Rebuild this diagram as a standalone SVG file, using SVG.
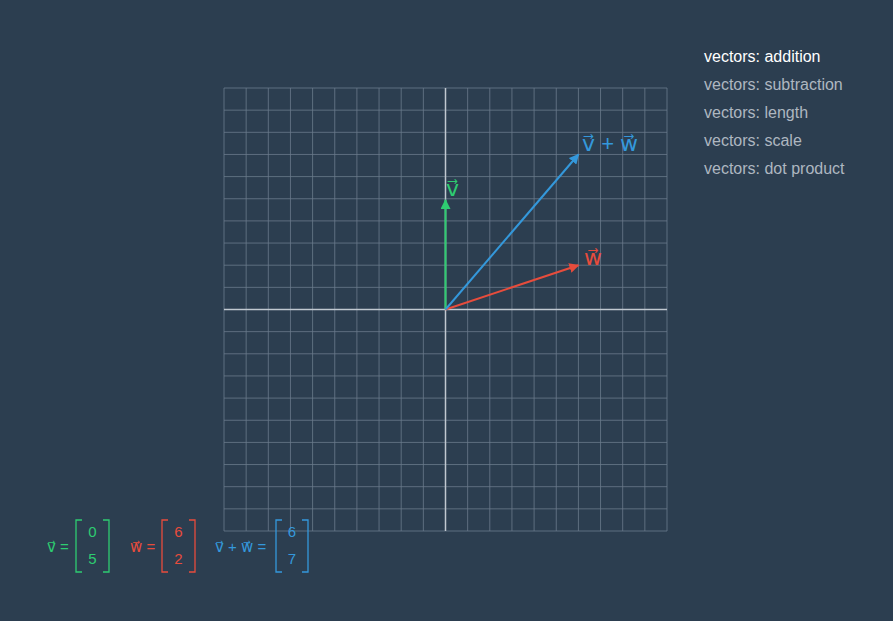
<svg xmlns="http://www.w3.org/2000/svg" width="893" height="621" viewBox="0 0 893 621">
<defs>
<style>
text{font-family:"Liberation Sans","DejaVu Sans",Arial,sans-serif}
.g{stroke:#6b7b8c;stroke-width:1;opacity:0.8}
.ax{stroke:#c0c8d0;stroke-width:1.5}
.lbl{font-size:22px}
.m{font-size:15px}
.num{font-size:15px;text-anchor:middle}
.menu{font-size:16px;fill:#aeb7c0}
.br{fill:none;stroke-width:1.3}
</style>
<marker id="ag" viewBox="0 0 10 10" refX="9" refY="5" markerWidth="5" markerHeight="5" orient="auto"><path d="M0,0L10,5L0,10z" fill="#2ecc71"/></marker>
<marker id="ar" viewBox="0 0 10 10" refX="9" refY="5" markerWidth="5" markerHeight="5" orient="auto"><path d="M0,0L10,5L0,10z" fill="#e74c3c"/></marker>
<marker id="ab" viewBox="0 0 10 10" refX="9" refY="5" markerWidth="5" markerHeight="5" orient="auto"><path d="M0,0L10,5L0,10z" fill="#3498db"/></marker>
</defs>
<rect width="893" height="621" fill="#2c3e50"/>
<g id="grid">
<path class="g" d="M224,88V531M246.15,88V531M268.3,88V531M290.45,88V531M312.6,88V531M334.75,88V531M356.9,88V531M379.05,88V531M401.2,88V531M423.35,88V531M467.65,88V531M489.8,88V531M511.95,88V531M534.1,88V531M556.25,88V531M578.4,88V531M600.55,88V531M622.7,88V531M644.85,88V531M667,88V531"/>
<path class="g" d="M224,88H667M224,110.15H667M224,132.3H667M224,154.45H667M224,176.6H667M224,198.75H667M224,220.9H667M224,243.05H667M224,265.2H667M224,287.35H667M224,331.65H667M224,353.8H667M224,375.95H667M224,398.1H667M224,420.25H667M224,442.4H667M224,464.55H667M224,486.7H667M224,508.85H667M224,531H667"/>
<path class="ax" d="M445.5,88V531M224,309.5H667"/>
</g>
<g id="connectors">
<line id="vec-v" x1="445.5" y1="309.5" x2="445.5" y2="200" stroke="#2ecc71" stroke-width="2" marker-end="url(#ag)"/>
<line id="vec-w" x1="445.5" y1="309.5" x2="578.4" y2="265.2" stroke="#e74c3c" stroke-width="2" marker-end="url(#ar)"/>
<line id="vec-vw" x1="445.5" y1="309.5" x2="578.4" y2="154.5" stroke="#3498db" stroke-width="2" marker-end="url(#ab)"/>
</g>
<g id="label-v"><text class="lbl" x="446" y="196" fill="#2ecc71">v⃗</text></g>
<g id="label-w"><text class="lbl" x="584" y="265" fill="#e74c3c">w⃗</text></g>
<g id="label-vw"><text class="lbl" x="582" y="151" fill="#3498db">v⃗ + w⃗</text></g>
<g id="menu">
<text class="menu" x="704" y="62" style="fill:#ffffff">vectors: addition</text>
<text class="menu" x="704" y="90">vectors: subtraction</text>
<text class="menu" x="704" y="118">vectors: length</text>
<text class="menu" x="704" y="146">vectors: scale</text>
<text class="menu" x="704" y="174">vectors: dot product</text>
</g>
<g id="matrix-v" fill="#2ecc71">
<text class="m" x="47" y="552">v⃗ =</text>
<path class="br" stroke="#2ecc71" d="M82,520H76V572H82M103,520H109V572H103"/>
<text class="num" x="92.5" y="537">0</text>
<text class="num" x="92.5" y="564">5</text>
</g>
<g id="matrix-w" fill="#e74c3c">
<text class="m" x="130" y="552">w⃗ =</text>
<path class="br" stroke="#e74c3c" d="M168,520H162V572H168M189,520H195V572H189"/>
<text class="num" x="178.5" y="537">6</text>
<text class="num" x="178.5" y="564">2</text>
</g>
<g id="matrix-vw" fill="#3498db">
<text class="m" x="215" y="552">v⃗ + w⃗ =</text>
<path class="br" stroke="#3498db" d="M282,520H276V572H282M302,520H308V572H302"/>
<text class="num" x="292" y="537">6</text>
<text class="num" x="292" y="564">7</text>
</g>
</svg>
